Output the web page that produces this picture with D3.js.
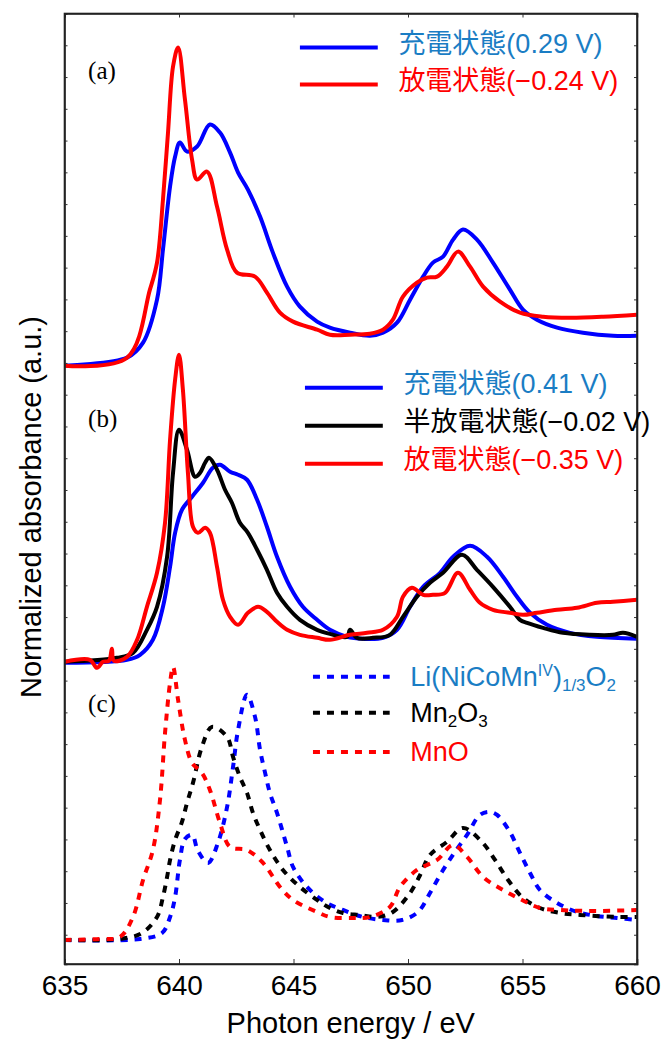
<!DOCTYPE html>
<html>
<head>
<meta charset="utf-8">
<script src="https://cdn.jsdelivr.net/npm/d3@7"></script>
<style>
  body { margin: 0; background: #fff; }
  text { font-family: "Liberation Sans", Arial, "Noto Sans CJK JP", sans-serif; }
</style>
</head>
<body>
<div id="chart"></div>
<script>
// Photon energy (eV) and normalized absorbance (a.u., stacked panels)
const aCharge = [[635.0,5.98],[637.73,6.06],[638.43,6.21],[639.04,6.64],[639.30,7.14],[639.61,7.77],[639.83,8.07],[640.04,8.21],[640.35,8.12],[640.79,8.17],[641.35,8.39],[641.79,8.31],[642.23,8.11],[642.58,7.91],[643.01,7.74],[643.54,7.47],[644.10,7.11],[644.72,6.77],[645.28,6.57],[646.03,6.42],[646.59,6.36],[647.47,6.31],[648.34,6.28],[648.91,6.31],[649.52,6.41],[650.09,6.64],[650.66,6.87],[651.09,7.01],[651.53,7.07],[651.97,7.24],[652.40,7.34],[653.01,7.24],[653.71,7.01],[654.45,6.74],[655.02,6.54],[655.63,6.44],[656.51,6.36],[657.64,6.31],[658.95,6.28],[660.0,6.28]];
const aDischarge = [[635.0,5.98],[637.73,6.06],[638.73,6.74],[639.04,7.01],[639.30,7.64],[639.52,8.31],[639.74,8.97],[639.96,9.16],[640.26,8.64],[640.57,8.04],[640.79,7.84],[641.22,7.92],[641.66,7.57],[642.10,7.14],[642.53,6.91],[643.32,6.87],[643.84,6.71],[644.41,6.51],[644.98,6.42],[646.03,6.34],[646.59,6.29],[647.47,6.29],[648.34,6.30],[648.91,6.34],[649.34,6.44],[649.78,6.67],[650.39,6.81],[650.83,6.86],[651.27,6.87],[651.70,6.97],[652.18,7.12],[652.71,6.97],[653.28,6.77],[654.02,6.62],[654.89,6.51],[655.90,6.47],[657.07,6.46],[658.52,6.47],[660.0,6.49]];

const bCharge = [[635.0,3.01],[637.73,3.04],[638.30,3.09],[638.86,3.24],[639.30,3.57],[639.61,3.97],[639.83,4.31],[640.13,4.54],[640.57,4.67],[641.05,4.81],[641.48,4.96],[641.79,4.99],[642.23,4.92],[642.58,4.89],[642.97,4.84],[643.41,4.64],[643.84,4.37],[644.28,4.07],[644.85,3.77],[645.41,3.57],[646.03,3.44],[646.59,3.34],[647.34,3.27],[648.04,3.25],[648.91,3.26],[649.52,3.34],[650.09,3.57],[650.66,3.77],[651.40,3.91],[651.97,4.07],[652.71,4.18],[653.45,4.07],[654.15,3.87],[654.76,3.67],[655.33,3.51],[656.07,3.39],[657.07,3.31],[658.25,3.27],[660.0,3.25]];
const bHalf = [[635.0,3.02],[637.29,3.06],[637.99,3.11],[638.60,3.34],[639.04,3.57],[639.48,4.07],[639.74,4.91],[640.00,5.34],[640.35,5.14],[640.70,4.87],[640.92,4.91],[641.14,5.01],[641.31,5.06],[641.66,4.94],[642.01,4.74],[642.31,4.61],[642.66,4.41],[643.01,4.31],[643.41,4.14],[643.84,3.94],[644.28,3.71],[644.72,3.57],[645.28,3.44],[646.03,3.34],[646.59,3.30],[647.34,3.27],[647.47,3.34],[647.77,3.26],[648.47,3.26],[649.21,3.29],[649.78,3.47],[650.39,3.67],[650.96,3.81],[651.53,3.91],[652.36,4.09],[653.01,3.94],[653.71,3.77],[654.45,3.57],[654.89,3.44],[655.20,3.41],[655.90,3.36],[656.77,3.31],[657.95,3.29],[658.95,3.29],[659.39,3.31],[660.0,3.27]];
const bDischarge = [[635.0,3.02],[636.11,3.04],[636.42,2.96],[636.68,3.02],[636.94,3.03],[637.07,3.15],[637.16,3.03],[637.73,3.07],[638.17,3.24],[638.60,3.57],[639.04,3.91],[639.39,4.41],[639.61,5.24],[639.83,5.84],[640.00,6.09],[640.17,5.74],[640.39,4.91],[640.61,4.37],[640.83,4.31],[641.14,4.36],[641.35,4.31],[641.66,3.97],[641.92,3.64],[642.23,3.47],[642.58,3.39],[643.01,3.51],[643.45,3.57],[643.84,3.52],[644.28,3.42],[644.72,3.34],[645.28,3.29],[646.03,3.26],[646.59,3.24],[647.47,3.29],[648.21,3.31],[648.91,3.34],[649.52,3.47],[649.78,3.67],[650.17,3.76],[650.66,3.69],[651.09,3.69],[651.62,3.71],[652.18,3.91],[652.71,3.74],[653.14,3.61],[653.71,3.54],[654.45,3.51],[655.02,3.49],[655.63,3.51],[656.51,3.54],[657.38,3.56],[658.25,3.61],[658.95,3.62],[660.0,3.64]];

const cLiNCM = [[635.0,0.24],[638.30,0.25],[639.26,0.31],[639.61,0.47],[639.83,0.67],[640.04,1.04],[640.26,1.25],[640.57,1.29],[640.83,1.13],[641.27,1.01],[641.70,1.21],[642.10,1.57],[642.36,1.97],[642.58,2.34],[642.97,2.69],[643.32,2.47],[643.54,2.14],[643.76,1.91],[643.97,1.71],[644.28,1.51],[644.72,1.17],[644.98,0.97],[645.59,0.77],[646.38,0.62],[647.16,0.54],[648.04,0.47],[648.91,0.44],[649.74,0.44],[650.44,0.52],[650.96,0.71],[651.48,0.92],[652.05,1.12],[652.58,1.29],[653.14,1.49],[653.58,1.52],[653.89,1.49],[654.45,1.32],[654.89,1.11],[655.33,0.91],[655.76,0.74],[656.51,0.61],[657.38,0.52],[658.25,0.48],[659.13,0.46],[660.0,0.44]];
const cMn2O3 = [[635.0,0.24],[637.42,0.25],[638.38,0.31],[639.04,0.47],[639.30,0.67],[639.48,0.87],[639.61,1.04],[639.83,1.24],[640.13,1.42],[640.35,1.61],[640.61,1.81],[641.00,2.17],[641.44,2.37],[642.10,2.27],[642.36,2.07],[642.66,1.87],[642.97,1.71],[643.23,1.51],[643.54,1.34],[643.97,1.14],[644.54,0.94],[645.28,0.77],[646.16,0.62],[646.59,0.56],[647.16,0.51],[647.90,0.49],[648.65,0.47],[649.34,0.52],[650.09,0.71],[650.53,0.89],[650.96,1.09],[651.70,1.22],[652.40,1.36],[653.23,1.22],[653.80,1.04],[654.37,0.84],[654.98,0.67],[655.76,0.56],[656.64,0.51],[657.51,0.49],[659.13,0.47],[660.0,0.47]];
const cMnO = [[635.0,0.24],[636.55,0.25],[637.42,0.27],[637.99,0.47],[638.43,0.84],[638.86,1.14],[639.17,1.64],[639.39,2.31],[639.61,2.81],[639.74,2.97],[639.96,2.64],[640.26,2.24],[640.57,2.01],[641.00,1.91],[641.35,1.74],[641.79,1.41],[642.23,1.17],[642.97,1.14],[643.67,1.01],[644.41,0.77],[644.98,0.64],[646.03,0.52],[646.59,0.47],[647.60,0.46],[648.34,0.47],[649.21,0.57],[649.65,0.77],[650.39,0.94],[651.27,1.04],[651.97,1.19],[652.58,1.07],[653.28,0.87],[654.15,0.74],[654.98,0.64],[655.76,0.56],[656.64,0.54],[658.25,0.53],[660.0,0.54]];

const xTicks = [635, 640, 645, 650, 655, 660];
const panelLabels = ["(a)", "(b)", "(c)"];

// dimensions
const width = 662, height = 1041;
const margin = { top: 13.5, right: 25, bottom: 77, left: 64.5 };
const innerW = width - margin.left - margin.right;
const innerH = height - margin.top - margin.bottom;

const x = d3.scaleLinear().domain([635, 660]).range([0, innerW]);
const y = d3.scaleLinear().domain([0, 9.5]).range([innerH, 0]);

const svg = d3.select("#chart").append("svg")
  .attr("width", width)
  .attr("height", height);

const g = svg.append("g")
  .attr("transform", `translate(${margin.left},${margin.top})`);

svg.append("defs").append("clipPath").attr("id", "clip")
  .append("rect").attr("width", innerW).attr("height", innerH);

const line = d3.line()
  .x(d => x(d[0]))
  .y(d => y(d[1]))
  .curve(d3.curveCatmullRom.alpha(0.5));

const series = [
  { data: cLiNCM, color: "#0000ff", dash: "7,7" },
  { data: cMn2O3, color: "#000000", dash: "7,7" },
  { data: cMnO, color: "#ff0000", dash: "7,7" },
  { data: bCharge, color: "#0000ff" },
  { data: bHalf, color: "#000000" },
  { data: bDischarge, color: "#ff0000" },
  { data: aCharge, color: "#0000ff" },
  { data: aDischarge, color: "#ff0000" }
];

const plot = g.append("g").attr("clip-path", "url(#clip)");
plot.selectAll("path.spec")
  .data(series)
  .enter().append("path")
  .attr("class", "spec")
  .attr("d", d => line(d.data))
  .attr("fill", "none")
  .attr("stroke", d => d.color)
  .attr("stroke-width", 4)
  .attr("stroke-linejoin", "round")
  .attr("stroke-dasharray", d => d.dash || null);

// frame + ticks
const yTicks = d3.range(1, 30).map(k => 9.5 - k * 0.3175);
g.append("g").attr("transform", `translate(0,${innerH})`)
  .call(d3.axisBottom(x).tickValues(xTicks).tickSize(-5).tickPadding(10).tickFormat(d3.format("d")))
  .call(a => a.selectAll("text").attr("font-size", 28).attr("fill", "#000").attr("dy", "0.75em"));
g.append("g")
  .call(d3.axisTop(x).tickValues(xTicks).tickSize(-4).tickFormat(""));
g.append("g")
  .call(d3.axisLeft(y).tickValues(yTicks).tickSize(-3).tickFormat(""));
g.append("g").attr("transform", `translate(${innerW},0)`)
  .call(d3.axisRight(y).tickValues(yTicks).tickSize(-3).tickFormat(""));
g.selectAll(".domain").attr("stroke", "#222").attr("stroke-width", 1.6);
g.selectAll(".tick line").attr("stroke", "#333").attr("stroke-width", 1);

g.append("rect")
  .attr("width", innerW).attr("height", innerH)
  .attr("fill", "none").attr("stroke", "#222").attr("stroke-width", 1.6);

// axis titles
svg.append("text")
  .attr("x", margin.left + innerW / 2)
  .attr("y", 1033)
  .attr("text-anchor", "middle")
  .attr("font-size", 29)
  .text("Photon energy / eV");

svg.append("text")
  .attr("transform", "translate(41,507) rotate(-90)")
  .attr("text-anchor", "middle")
  .attr("font-size", 29)
  .text("Normalized absorbance (a.u.)");

// panel labels
g.selectAll("text.panel")
  .data(panelLabels)
  .enter().append("text")
  .attr("class", "panel")
  .attr("x", x(636.03))
  .attr("y", (d, i) => y([8.85, 5.37, 2.52][i]))
  .style("font-family", "'Liberation Serif', 'Times New Roman', serif")
  .attr("font-size", 25)
  .text(d => d);

// legends
const legendBlue = "#1a7dc4";
const legends = [
  { y: 9.16, x0: 645.28, color: "#0000ff", tc: legendBlue, label: "充電状態(0.29 V)" },
  { y: 8.79, x0: 645.28, color: "#ff0000", tc: "#ff0000", label: "放電状態(\u22120.24 V)" },
  { y: 5.76, x0: 645.5, color: "#0000ff", tc: legendBlue, label: "充電状態(0.41 V)" },
  { y: 5.38, x0: 645.5, color: "#000000", tc: "#000000", label: "半放電状態(\u22120.02 V)" },
  { y: 5.00, x0: 645.5, color: "#ff0000", tc: "#ff0000", label: "放電状態(\u22120.35 V)" }
];
const legG = g.append("g");
legG.selectAll("line")
  .data(legends)
  .enter().append("line")
  .attr("x1", d => x(d.x0)).attr("x2", d => x(d.x0 + 3.4))
  .attr("y1", d => y(d.y)).attr("y2", d => y(d.y))
  .attr("stroke", d => d.color).attr("stroke-width", 4);
legG.selectAll("text")
  .data(legends)
  .enter().append("text")
  .attr("x", d => x(d.x0 + 4.3))
  .attr("y", d => y(d.y) + 5)
  .attr("font-size", 27)
  .attr("fill", d => d.tc)
  .text(d => d.label);

const refLegend = [
  { y: 2.87, color: "#0000ff", tc: legendBlue },
  { y: 2.51, color: "#000000", tc: "#000000" },
  { y: 2.12, color: "#ff0000", tc: "#ff0000" }
];
const refG = g.append("g");
refG.selectAll("line")
  .data(refLegend)
  .enter().append("line")
  .attr("x1", x(645.85)).attr("x2", x(649.2))
  .attr("y1", d => y(d.y)).attr("y2", d => y(d.y))
  .attr("stroke", d => d.color).attr("stroke-width", 4)
  .attr("stroke-dasharray", "7,7");

const refText = refG.selectAll("text")
  .data(refLegend)
  .enter().append("text")
  .attr("x", x(650.1))
  .attr("y", d => y(d.y) + 9)
  .attr("font-size", 27)
  .attr("fill", d => d.tc);

const t0 = d3.select(refText.nodes()[0]);
t0.append("tspan").text("Li(NiCoMn");
t0.append("tspan").attr("font-size", 16).attr("dy", -10).text("IV");
t0.append("tspan").attr("dy", 10).text(")");
t0.append("tspan").attr("font-size", 17).attr("dy", 5).text("1/3");
t0.append("tspan").attr("dy", -5).text("O");
t0.append("tspan").attr("font-size", 17).attr("dy", 5).text("2");

const t1 = d3.select(refText.nodes()[1]);
t1.append("tspan").text("Mn");
t1.append("tspan").attr("font-size", 17).attr("dy", 5).text("2");
t1.append("tspan").attr("dy", -5).text("O");
t1.append("tspan").attr("font-size", 17).attr("dy", 5).text("3");

d3.select(refText.nodes()[2]).text("MnO");
</script>
</body>
</html>
